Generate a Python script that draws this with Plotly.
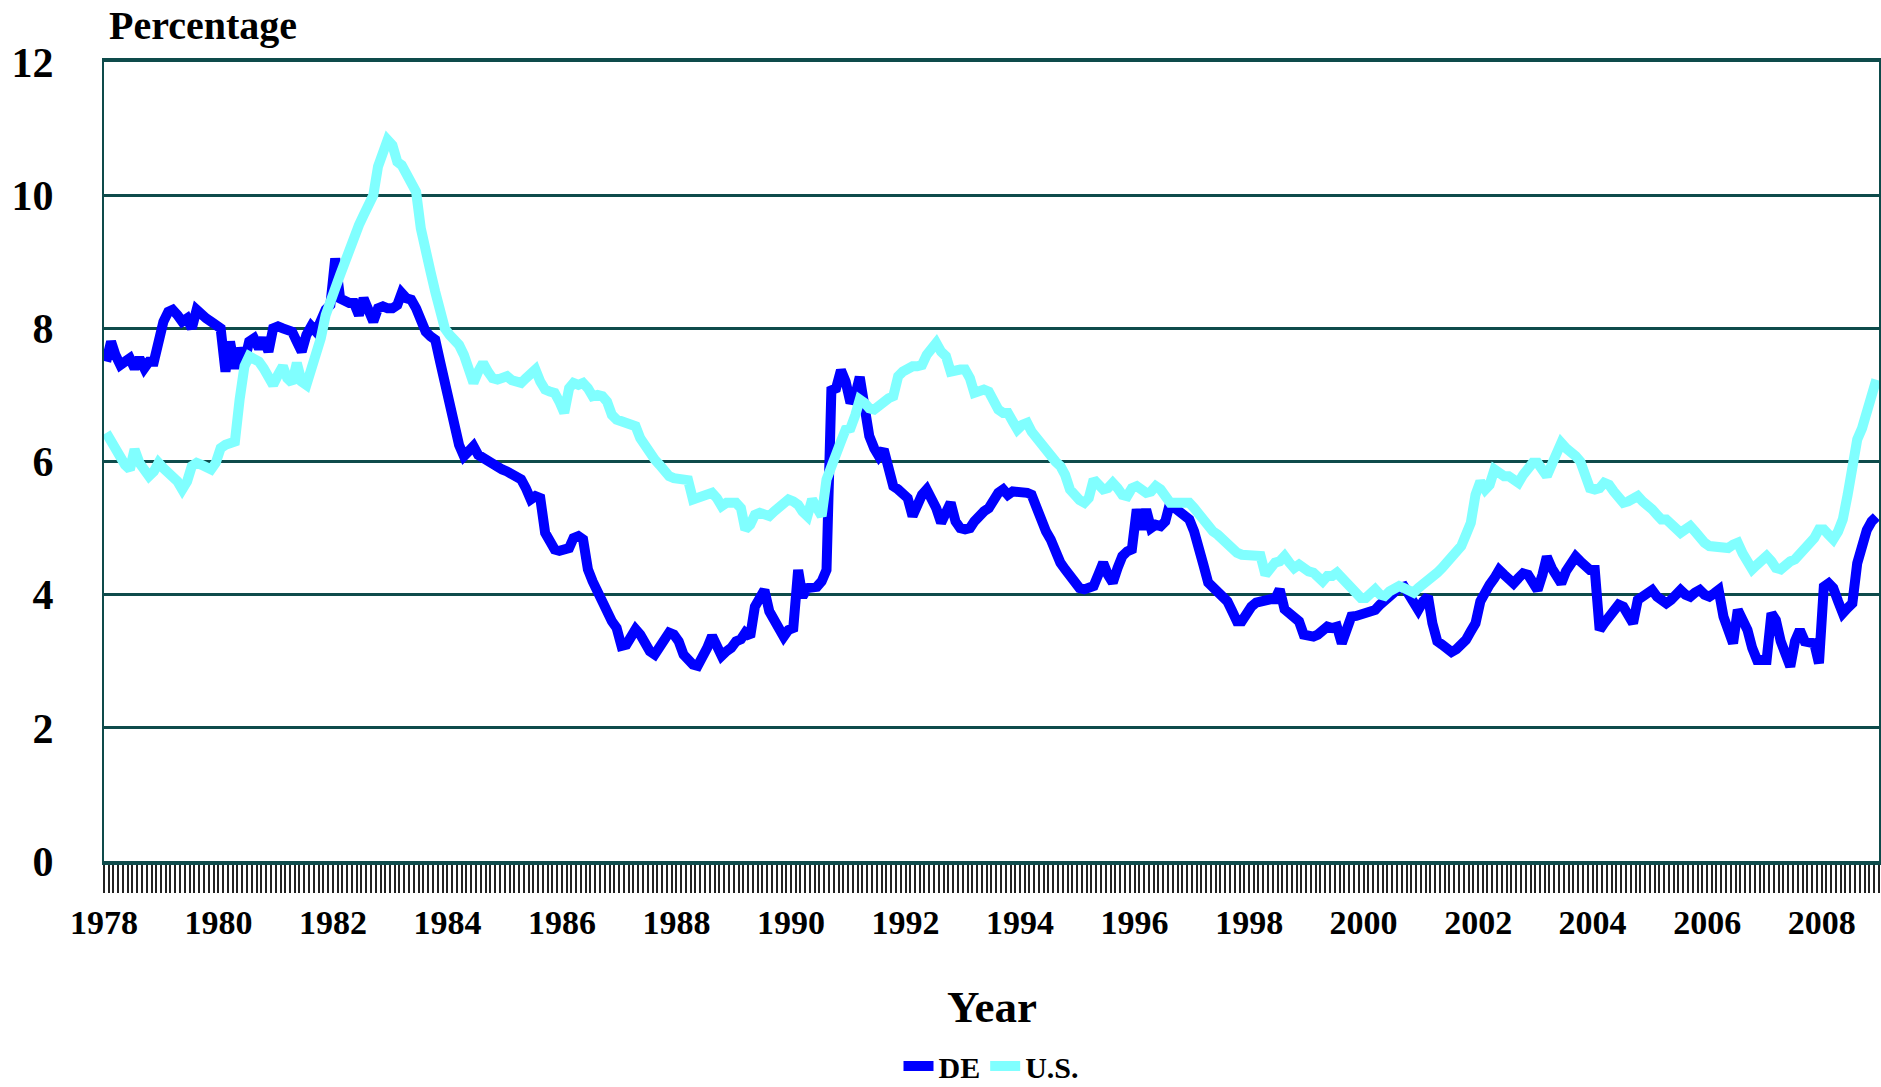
import pandas as pd
import plotly.graph_objects as go

first_year = 1978
n_years = 31

# monthly values, one row per year (Jan..Dec)
de_pct = [
    7.5, 7.8, 7.6, 7.45, 7.5, 7.55, 7.4, 7.55, 7.4, 7.5, 7.5, 7.9,          # 1978
    8.1, 8.25, 8.28, 8.2, 8.1, 8.15, 8.0, 8.28, 8.2, 8.15, 8.1, 8.05,      # 1979
    8.0, 7.35, 7.8, 7.4, 7.7, 7.5, 7.8, 7.85, 7.7, 7.85, 7.65, 8.0,        # 1980
    8.03, 8.0, 7.98, 7.95, 7.8, 7.65, 7.9, 8.03, 7.95, 8.13, 8.28, 8.35,   # 1981
    9.05, 8.45, 8.4, 8.38, 8.38, 8.2, 8.45, 8.3, 8.1, 8.3, 8.33, 8.3,      # 1982
    8.3, 8.35, 8.53, 8.45, 8.43, 8.3, 8.1, 7.95, 7.88, 7.83, 7.5, 7.2,     # 1983
    6.8, 6.43, 6.25, 6.08, 6.15, 6.23, 6.1, 6.05, 6.03, 5.95, 5.9, 5.88,   # 1984
    5.85, 5.8, 5.78, 5.73, 5.6, 5.43, 5.48, 5.45, 4.93, 4.8, 4.68, 4.66,   # 1985
    4.68, 4.7, 4.85, 4.88, 4.83, 4.38, 4.2, 4.03, 3.9, 3.75, 3.6, 3.5,     # 1986
    3.23, 3.25, 3.4, 3.48, 3.4, 3.25, 3.15, 3.1, 3.2, 3.35, 3.43, 3.4,     # 1987
    3.3, 3.1, 3.0, 2.95, 2.93, 3.05, 3.2, 3.38, 3.2, 3.08, 3.15, 3.2,      # 1988
    3.3, 3.33, 3.43, 3.37, 3.82, 3.95, 4.07, 3.75, 3.62, 3.55, 3.37, 3.47, # 1989
    3.5, 4.37, 3.97, 4.1, 4.12, 4.12, 4.2, 4.37, 7.07, 7.1, 7.37, 7.2,     # 1990
    6.88, 7.0, 7.27, 6.73, 6.38, 6.2, 6.08, 6.18, 5.9, 5.63, 5.58, 5.53,   # 1991
    5.45, 5.18, 5.35, 5.5, 5.58, 5.45, 5.3, 5.08, 5.2, 5.38, 5.1, 5.0,     # 1992
    4.98, 5.0, 5.1, 5.2, 5.25, 5.3, 5.45, 5.53, 5.58, 5.5, 5.55, 5.55,     # 1993
    5.55, 5.53, 5.5, 5.3, 5.13, 4.95, 4.83, 4.6, 4.48, 4.38, 4.28, 4.2,    # 1994
    4.1, 4.08, 4.1, 4.13, 4.3, 4.48, 4.3, 4.18, 4.4, 4.58, 4.65, 4.68,     # 1995
    5.28, 4.98, 5.28, 5.0, 5.05, 5.03, 5.1, 5.38, 5.3, 5.25, 5.2, 5.13,    # 1996
    4.95, 4.73, 4.45, 4.18, 4.12, 4.05, 3.98, 3.9, 3.75, 3.6, 3.6, 3.72,   # 1997
    3.82, 3.88, 3.9, 3.93, 3.93, 3.93, 4.08, 3.78, 3.72, 3.65, 3.6, 3.4,   # 1998
    3.37, 3.37, 3.4, 3.48, 3.52, 3.5, 3.52, 3.27, 3.45, 3.67, 3.68, 3.7,   # 1999
    3.72, 3.75, 3.77, 3.85, 3.92, 3.97, 4.05, 4.1, 4.12, 4.0, 3.85, 3.77,  # 2000
    3.9, 3.97, 3.57, 3.3, 3.25, 3.2, 3.14, 3.18, 3.25, 3.32, 3.45, 3.57,   # 2001
    3.9, 4.07, 4.15, 4.25, 4.37, 4.3, 4.22, 4.17, 4.25, 4.32, 4.3, 4.2,    # 2002
    4.07, 4.3, 4.57, 4.4, 4.3, 4.17, 4.35, 4.5, 4.57, 4.5, 4.42, 4.37,     # 2003
    4.37, 3.47, 3.57, 3.65, 3.75, 3.85, 3.82, 3.72, 3.57, 3.92, 3.97, 4.05, # 2004
    4.07, 3.97, 3.9, 3.87, 3.92, 4.0, 4.07, 4.0, 3.97, 4.03, 4.07, 4.0,    # 2005
    3.97, 4.02, 4.07, 3.67, 3.5, 3.27, 3.77, 3.6, 3.47, 3.2, 3.02, 3.02,   # 2006
    3.02, 3.72, 3.62, 3.3, 3.1, 2.92, 3.3, 3.47, 3.3, 3.27, 3.27, 2.97,    # 2007
    4.12, 4.17, 4.1, 3.9, 3.72, 3.8, 3.87, 4.47, 4.77, 4.97, 5.1, 5.17,    # 2008
]

us_pct = [
    6.43, 6.3, 6.15, 6.03, 5.95, 5.88, 6.18, 5.98, 5.85, 5.78, 5.85, 5.98, # 1978
    5.9, 5.83, 5.75, 5.7, 5.58, 5.7, 5.93, 5.98, 5.95, 5.9, 5.88, 5.98,    # 1979
    6.2, 6.25, 6.28, 6.3, 6.93, 7.43, 7.58, 7.55, 7.5, 7.4, 7.3, 7.15,     # 1980
    7.3, 7.43, 7.25, 7.18, 7.48, 7.2, 7.15, 7.35, 7.58, 7.85, 8.2, 8.45,   # 1981
    8.6, 8.8, 9.0, 9.15, 9.35, 9.55, 9.7, 9.83, 10.0, 10.43, 10.6, 10.83,  # 1982
    10.75, 10.5, 10.45, 10.3, 10.13, 10.05, 9.5, 9.1, 8.85, 8.55, 8.3, 8.0, # 1983
    7.9, 7.83, 7.75, 7.6, 7.33, 7.18, 7.35, 7.48, 7.35, 7.25, 7.23, 7.25,  # 1984
    7.28, 7.22, 7.2, 7.18, 7.25, 7.3, 7.38, 7.2, 7.08, 7.05, 7.03, 6.9,    # 1985
    6.73, 7.1, 7.18, 7.15, 7.18, 7.1, 6.98, 7.0, 6.98, 6.9, 6.7, 6.63,     # 1986
    6.6, 6.58, 6.55, 6.53, 6.35, 6.23, 6.12, 6.03, 5.95, 5.85, 5.78, 5.75, # 1987
    5.75, 5.73, 5.72, 5.43, 5.45, 5.48, 5.5, 5.53, 5.45, 5.33, 5.38, 5.38, # 1988
    5.38, 5.3, 4.98, 5.05, 5.2, 5.23, 5.2, 5.18, 5.25, 5.3, 5.38, 5.43,    # 1989
    5.4, 5.35, 5.25, 5.18, 5.43, 5.3, 5.18, 5.73, 5.95, 6.18, 6.3, 6.48,   # 1990
    6.5, 6.7, 6.93, 6.88, 6.8, 6.78, 6.85, 6.9, 6.95, 6.98, 7.28, 7.35,    # 1991
    7.4, 7.43, 7.43, 7.45, 7.6, 7.7, 7.78, 7.65, 7.58, 7.35, 7.38, 7.38,   # 1992
    7.38, 7.25, 7.03, 7.05, 7.08, 7.05, 6.9, 6.78, 6.73, 6.73, 6.6, 6.48,  # 1993
    6.55, 6.58, 6.45, 6.35, 6.28, 6.15, 6.08, 6.0, 5.93, 5.8, 5.58, 5.48,  # 1994
    5.42, 5.38, 5.45, 5.73, 5.65, 5.58, 5.6, 5.68, 5.6, 5.5, 5.48, 5.6,    # 1995
    5.63, 5.55, 5.53, 5.55, 5.63, 5.58, 5.5, 5.38, 5.38, 5.38, 5.38, 5.38, # 1996
    5.3, 5.2, 5.1, 5.03, 4.95, 4.9, 4.83, 4.75, 4.68, 4.63, 4.6, 4.6,      # 1997
    4.6, 4.58, 4.58, 4.3, 4.4, 4.48, 4.5, 4.58, 4.48, 4.4, 4.45, 4.38,     # 1998
    4.35, 4.33, 4.25, 4.2, 4.28, 4.28, 4.33, 4.25, 4.15, 4.1, 4.02, 3.95,  # 1999
    3.95, 4.05, 4.08, 4.0, 3.98, 4.05, 4.1, 4.13, 4.1, 4.05, 4.03, 4.1,    # 2000
    4.15, 4.2, 4.25, 4.33, 4.4, 4.48, 4.55, 4.65, 4.73, 4.9, 5.08, 5.5,    # 2001
    5.7, 5.58, 5.65, 5.88, 5.82, 5.78, 5.78, 5.72, 5.68, 5.8, 5.9, 5.98,   # 2002
    5.98, 5.85, 5.78, 5.95, 6.1, 6.28, 6.2, 6.15, 6.08, 6.0, 5.8, 5.6,     # 2003
    5.58, 5.6, 5.68, 5.65, 5.55, 5.45, 5.38, 5.4, 5.45, 5.48, 5.4, 5.35,   # 2004
    5.28, 5.2, 5.13, 5.13, 5.05, 5.0, 4.93, 4.98, 5.03, 4.95, 4.85, 4.78,  # 2005
    4.73, 4.72, 4.7, 4.68, 4.7, 4.75, 4.78, 4.62, 4.5, 4.38, 4.45, 4.52,   # 2006
    4.58, 4.5, 4.4, 4.38, 4.45, 4.5, 4.53, 4.6, 4.68, 4.73, 4.85, 4.98,    # 2007
    4.98, 4.9, 4.83, 4.95, 5.13, 5.5, 5.88, 6.33, 6.5, 6.73, 7.0, 7.23,    # 2008
]

months = pd.date_range(f"{first_year}-01-01", periods=12 * n_years, freq="MS") + pd.Timedelta(days=14)

teal = "#0E4B4B"
serif = "Liberation Serif, Times New Roman, serif"

fig = go.Figure()

fig.add_trace(
    go.Scatter(
        x=months,
        y=de_pct,
        name="DE",
        mode="lines",
        line=dict(color="#0000FF", width=10)
    )
)

fig.add_trace(
    go.Scatter(
        x=months,
        y=us_pct,
        name="U.S.",
        mode="lines",
        line=dict(color="#80FFFF", width=10)
    )
)

fig.update_layout(
    width=1881,
    height=1087,
    plot_bgcolor="white",
    paper_bgcolor="white",
    margin=dict(l=104, r=2, t=62, b=226, autoexpand=False),
    font=dict(family=serif, color="black"),
    xaxis=dict(
        type="date",
        range=[f"{first_year}-01-01", f"{first_year + n_years}-01-01"],
        tick0=f"{first_year}-01-01",
        dtick="M24",
        tickformat="%Y",
        ticks="outside",
        ticklen=28,
        tickwidth=2,
        tickcolor="#222222",
        tickfont=dict(size=34, weight="bold"),
        minor=dict(
            dtick="M1",
            ticks="outside",
            ticklen=28,
            tickwidth=2,
            tickcolor="#222222",
            showgrid=False
        ),
        showgrid=False,
        showline=True,
        mirror=True,
        linecolor=teal,
        linewidth=4,
        zeroline=False
    ),
    yaxis=dict(
        range=[0, 12],
        dtick=2,
        showgrid=True,
        gridcolor=teal,
        gridwidth=3,
        showline=True,
        mirror=True,
        linecolor=teal,
        linewidth=2,
        zeroline=False,
        ticks="",
        ticklabelstandoff=40,
        tickfont=dict(size=42, weight="bold")
    ),
    legend=dict(
        orientation="h",
        x=0.5,
        xanchor="center",
        y=-(1066 - 861) / 799,
        yanchor="middle",
        itemwidth=30,
        font=dict(size=30, weight="bold"),
        bgcolor="rgba(0,0,0,0)"
    ),
    annotations=[
        dict(
            text="Percentage",
            xref="paper", yref="paper",
            x=0.0015, y=1 + 37 / 799,
            xanchor="left", yanchor="middle",
            showarrow=False,
            font=dict(size=40, weight="bold")
        ),
        dict(
            text="Year",
            xref="paper", yref="paper",
            x=0.5, y=-(1007 - 861) / 799,
            xanchor="center", yanchor="middle",
            showarrow=False,
            font=dict(size=45, weight="bold")
        )
    ]
)

# pin the graph to the top-left corner of the page (no body margin, no extra page height)
pin = (
    "document.body.style.margin='0';"
    "var d=document.getElementById('{plot_id}');"
    "d.style.position='fixed';d.style.left='0';d.style.top='0';"
)

fig.write_html("out.html", config={"displayModeBar": False}, post_script=pin)
